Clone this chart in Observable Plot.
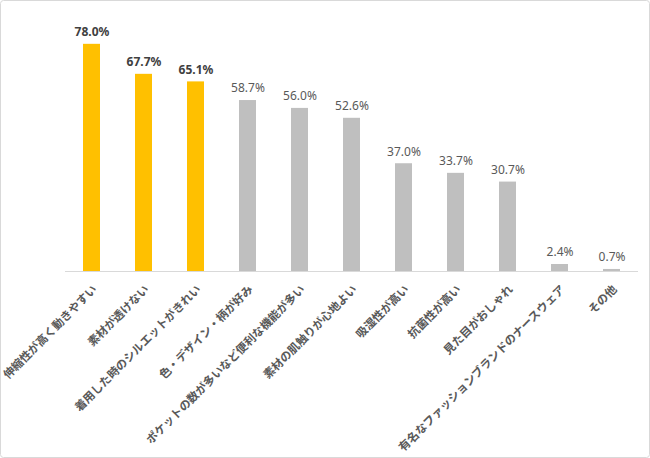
<!DOCTYPE html>
<html><head><meta charset="utf-8">
<script src="https://cdn.jsdelivr.net/npm/d3@7"></script>
<script src="https://cdn.jsdelivr.net/npm/@observablehq/plot@0.6"></script>
<style>
body{margin:0;background:#fff;}
#chart{position:relative;width:650px;height:458px;}
#chart svg{display:block;}
</style>
</head><body><div id="chart"></div>
<script>
const categories = ["伸縮性が高く動きやすい","素材が透けない","着用した時のシルエットがきれい","色・デザイン・柄が好み","ポケットの数が多いなど便利な機能が多い","素材の肌触りが心地よい","吸湿性が高い","抗菌性が高い","見た目がおしゃれ","有名なファッションブランドのナースウェア","その他"];
const values = [78.0,67.7,65.1,58.7,56.0,52.6,37.0,33.7,30.7,2.4,0.7];
const highlighted = [true,true,true,false,false,false,false,false,false,false,false];

const data = categories.map((c,i)=>({cat:c, value:values[i], hi:highlighted[i]}));

const plot = Plot.plot({
  width:650, height:458,
  marginLeft:65, marginRight:12, marginTop:38, marginBottom:187,
  style:{fontFamily:"'Noto Sans CJK JP','Noto Sans',sans-serif", background:"#fff"},
  x:{domain:categories, paddingInner:0.67, paddingOuter:0.335, label:null},
  y:{domain:[0,80], axis:null},
  marks:[
    Plot.barY(data,{x:"cat", y:"value", fill:d=>d.hi?"#FFC000":"#BFBFBF"}),
    Plot.ruleY([0],{stroke:"#D9D9D9", strokeWidth:1}),
    Plot.text(data.filter(d=>d.hi),{x:"cat", y:"value", text:d=>d.value.toFixed(1)+"%", dy:-12, fontSize:12, fontWeight:"bold", fill:"#404040", fontFamily:"'Noto Sans',sans-serif"}),
    Plot.text(data.filter(d=>!d.hi),{x:"cat", y:"value", text:d=>d.value.toFixed(1)+"%", dy:-12, fontSize:12, fill:"#595959", fontFamily:"'Noto Sans',sans-serif"}),
    Plot.axisX({tickSize:0, tickPadding:16, dx:3, tickRotate:-45, fontSize:11.5, fontWeight:"bold", fill:"#595959", label:null})
  ]
});
const wrap = document.getElementById("chart");
wrap.appendChild(plot);
const svg = d3.select(plot);
svg.append("rect").attr("x",0.5).attr("y",0.5).attr("width",649).attr("height",457).attr("rx",3).attr("fill","none").attr("stroke","#D9D9D9");
</script>
</body></html>
